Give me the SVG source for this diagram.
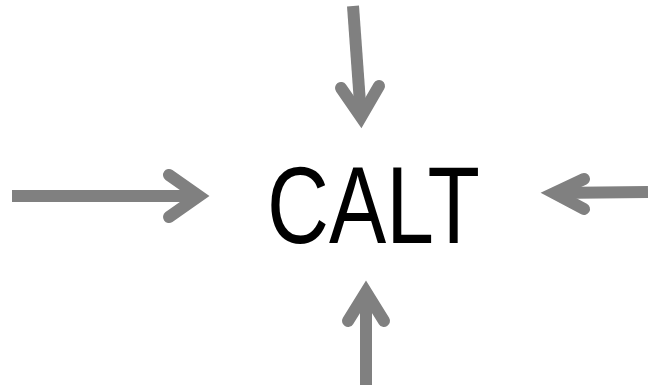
<svg xmlns="http://www.w3.org/2000/svg" width="648" height="385" viewBox="0 0 648 385">
<style>
.shaft{fill:none;stroke:#808080;stroke-width:12;stroke-linecap:butt}
.head{fill:none;stroke:#808080;stroke-width:12;stroke-linecap:round;stroke-linejoin:miter;stroke-miterlimit:10}
.lbl{font-family:"Liberation Sans",Arial,sans-serif;font-size:109px;fill:#000}
</style>
<rect width="648" height="385" fill="#fff"/>
<g id="connectors">
<path class="shaft" d="M12 196 L200 196"/>
<path class="head" d="M169 175 L199 196 L169 217"/>
<path class="shaft" d="M353 6 L361 117"/>
<path class="head" d="M341 88 L361 117 L379 86"/>
<path class="shaft" d="M553 193 L648 192"/>
<path class="head" d="M584 179 L554 193 L584 209"/>
<path class="shaft" d="M366 291 L366 385"/>
<path class="head" d="M348 321 L366 292 L384 321"/>
</g>
<g id="calt">
<text class="lbl" x="267" y="243" textLength="213" lengthAdjust="spacingAndGlyphs">CALT</text>
</g>
</svg>
